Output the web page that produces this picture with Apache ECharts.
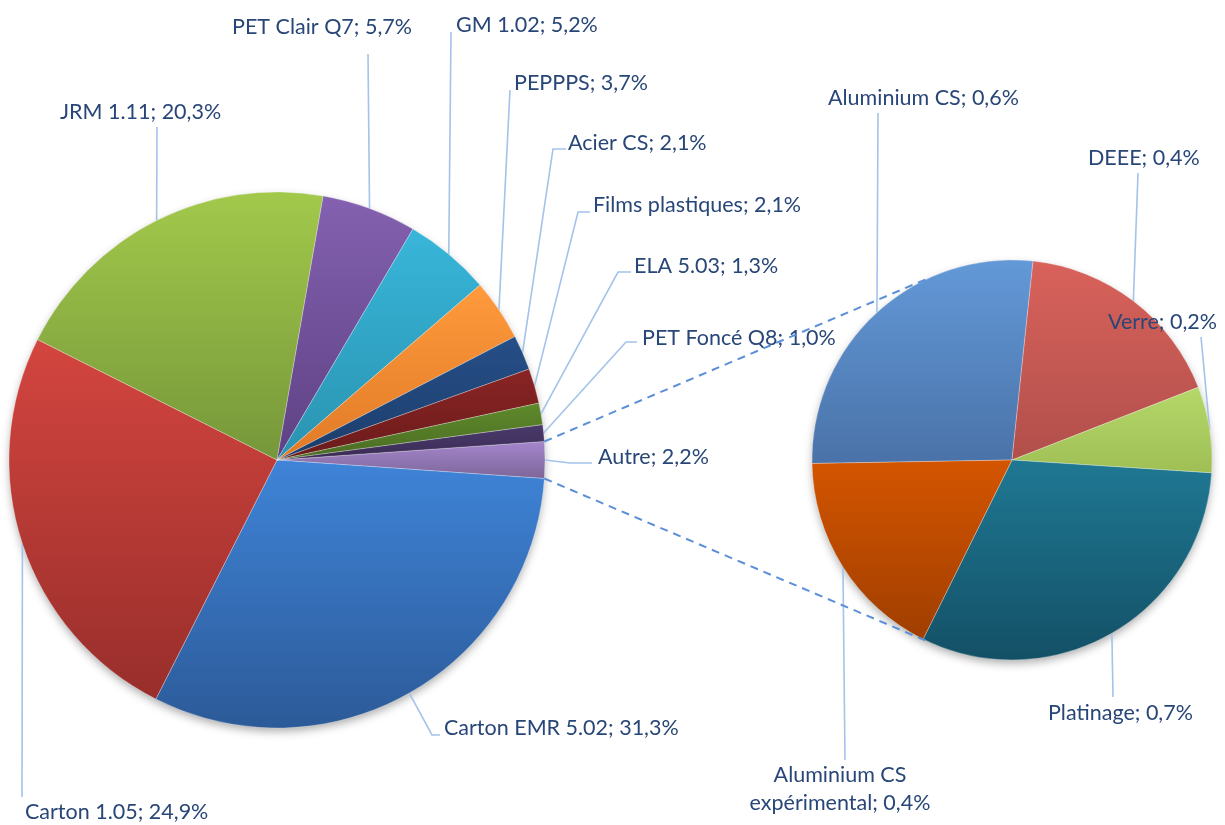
<!DOCTYPE html>
<html>
<head>
<meta charset="utf-8">
<script src="https://cdn.jsdelivr.net/npm/echarts@6/dist/echarts.min.js"></script>
<style>
html, body { margin: 0; padding: 0; background: #fff; }
#main { width: 1225px; height: 825px; }
</style>
</head>
<body>
<div id="main"></div>
<script>
// secteur principal, sens horaire en partant de "Autre"
var mainNames = ['Autre', 'Carton EMR 5.02', 'Carton 1.05', 'JRM 1.11', 'PET Clair Q7', 'GM 1.02',
                 'PEPPPS', 'Acier CS', 'Films plastiques', 'ELA 5.03', 'PET Foncé Q8'];
var mainValues = [2.2, 31.3, 24.9, 20.3, 5.7, 5.2, 3.7, 2.1, 2.1, 1.3, 1.0];

// détail de "Autre"
var subNames = ['Aluminium CS', 'DEEE', 'Verre', 'Platinage', 'Aluminium CS\nexpérimental'];
var subValues = [0.62, 0.4, 0.16, 0.72, 0.4];

// couleurs (haut -> bas du dégradé)
var mainColors = [
    ['#a486cc', '#7d6699'], ['#3f84d8', '#2c5a98'], ['#d4453f', '#982e2b'], ['#a2c94b', '#76973a'],
    ['#8461b0', '#5e4184'], ['#38b6da', '#2a93b0'], ['#ff9a3d', '#e07a26'], ['#264f88', '#1c3d6b'],
    ['#8a2424', '#6b1b1b'], ['#5f8a2c', '#4a6b22'], ['#4a3a6c', '#3a2b54']
];
var subColors = [
    ['#6399d8', '#4a72a8'], ['#d9625b', '#b14f4b'], ['#b5d86a', '#9fbf55'],
    ['#1f7893', '#135066'], ['#d45500', '#a03e00']
];

// position des étiquettes : [x texte, y milieu, coude x, coude y, fin x, fin y, align]
var mainLabelPos = [
    [598, 457, 570, 463, 592, 463, 'left'],
    [444, 728, 432, 735, 440, 735, 'left'],
    [25, 812, 22, 797, 22, 797, 'left'],
    [60, 112, 157, 127, 157, 127, 'left'],
    [232, 27, 368, 54, 368, 54, 'left'],
    [456, 25, 451, 32, 451, 32, 'left'],
    [514, 83, 510, 90, 510, 90, 'left'],
    [568, 143, 553, 149, 566, 149, 'left'],
    [593, 205, 578, 212, 590, 212, 'left'],
    [634, 266, 618, 272, 631, 272, 'left'],
    [642, 338, 626, 342, 637, 342, 'left']
];
var subLabelPos = [
    [828, 98, 878, 113, 878, 113, 'left'],
    [1088, 158, 1138, 173, 1138, 173, 'left'],
    [1108, 322, 1201, 337, 1201, 337, 'left'],
    [1048, 713, 1113, 697, 1113, 697, 'left'],
    [840, 789, 845, 760, 845, 760, 'center']
];

var mainC = [277, 460], mainR = 268;
var subC = [1012, 460], subR = 200;

var total = 0;
for (var i = 0; i < mainValues.length; i++) total += mainValues[i];
var autreHalf = mainValues[0] / total * 180; // "Autre" centré à droite

function grad(c) {
    return { type: 'linear', x: 0, y: 0, x2: 0, y2: 1,
             colorStops: [{ offset: 0, color: c[0] }, { offset: 1, color: c[1] }] };
}
function makeData(names, values, colors) {
    var list = [];
    for (var i = 0; i < names.length; i++) {
        list.push({ name: names[i], value: values[i], itemStyle: { color: grad(colors[i]) } });
    }
    return list;
}
function fmt(p) {
    return p.name + '; ' + p.value.toFixed(1).replace('.', ',') + '%';
}

var labelPos = [mainLabelPos, subLabelPos];

var txtColor = '#284677';
var leaderColor = '#a3c3e9';

var common = {
    type: 'pie',
    clockwise: true,
    avoidLabelOverlap: false,
    minAngle: 0,
    itemStyle: { borderColor: 'rgba(255,255,255,0.45)', borderWidth: 0.6 },
    label: {
        show: true, position: 'outside', formatter: fmt,
        color: txtColor, fontFamily: 'Lato', fontSize: 21.5, lineHeight: 28
    },
    labelLine: { show: true, length: 10, length2: 10, smooth: false,
                 lineStyle: { color: leaderColor, width: 1.6 } },
    labelLayout: function (params) {
        var p = labelPos[params.seriesIndex][params.dataIndex];
        var pts = params.labelLinePoints;
        var start = pts ? pts[0] : [p[2], p[3]];
        return {
            x: p[0], y: p[1], align: p[6], verticalAlign: 'middle',
            labelLinePoints: [start, [p[2], p[3]], [p[4], p[5]]]
        };
    },
    emphasis: { disabled: true }
};

function angPt(c, r, deg) {
    var a = deg * Math.PI / 180;
    return [c[0] + r * Math.cos(a), c[1] - r * Math.sin(a)];
}
var a1 = angPt(mainC, mainR, autreHalf), a2 = angPt(mainC, mainR, -autreHalf);
var b1 = angPt(subC, subR, 114.5), b2 = angPt(subC, subR, -114.5);

var option = {
    backgroundColor: '#fff',
    animation: false,
    graphic: [
        { type: 'circle', z: 0, shape: { cx: mainC[0], cy: mainC[1], r: mainR - 1 },
          style: { fill: '#fff', shadowBlur: 10, shadowOffsetY: 4, shadowColor: 'rgba(0,0,0,0.35)' } },
        { type: 'circle', z: 0, shape: { cx: subC[0], cy: subC[1], r: subR - 1 },
          style: { fill: '#fff', shadowBlur: 10, shadowOffsetY: 4, shadowColor: 'rgba(0,0,0,0.35)' } },
        { type: 'line', z: 5, shape: { x1: a1[0], y1: a1[1], x2: b1[0], y2: b1[1] },
          style: { stroke: '#5b8fd8', lineWidth: 2, lineDash: [8, 6] } },
        { type: 'line', z: 5, shape: { x1: a2[0], y1: a2[1], x2: b2[0], y2: b2[1] },
          style: { stroke: '#5b8fd8', lineWidth: 2, lineDash: [8, 6] } }
    ],
    series: [
        echarts.util.merge({
            name: 'principal', center: mainC, radius: mainR, startAngle: autreHalf,
            data: makeData(mainNames, mainValues, mainColors)
        }, common),
        echarts.util.merge({
            name: 'autre', center: subC, radius: subR, startAngle: 181,
            data: makeData(subNames, subValues, subColors)
        }, common)
    ]
};

var myChart = echarts.init(document.getElementById('main'));
myChart.setOption(option);
</script>
</body>
</html>
